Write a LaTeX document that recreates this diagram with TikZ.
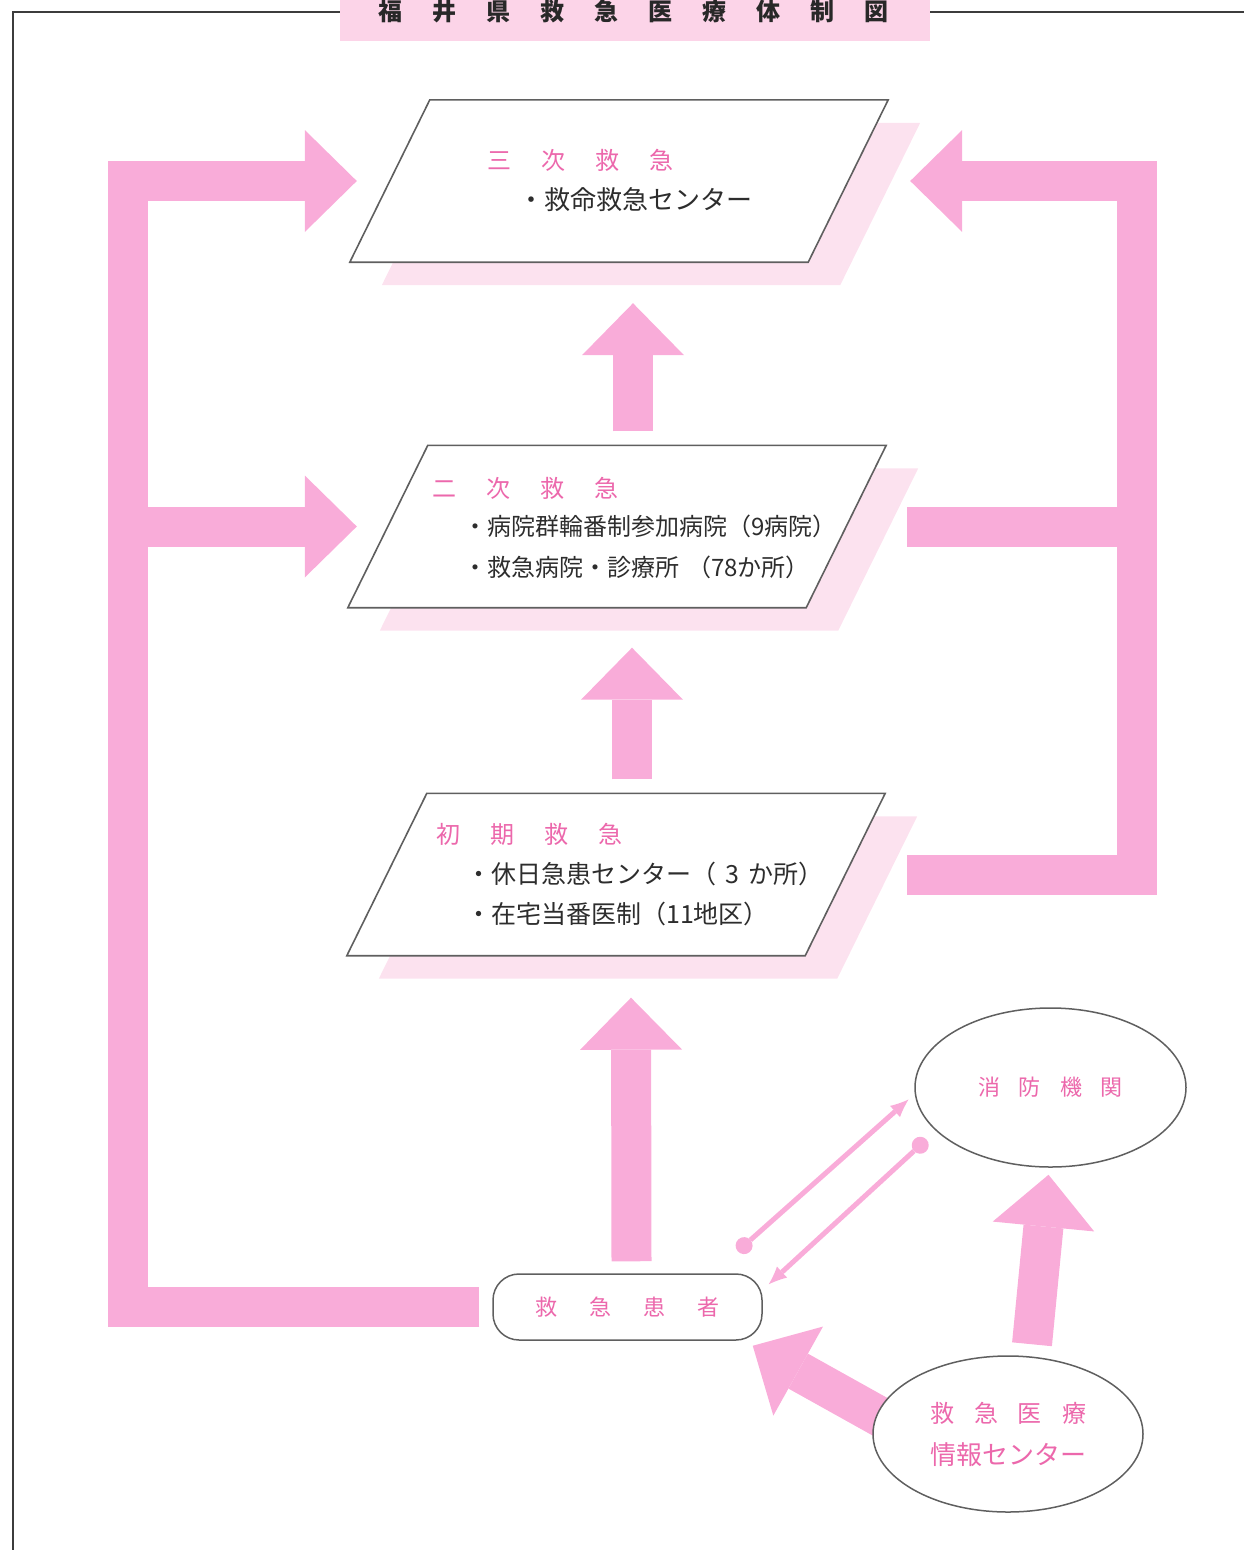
\documentclass[tikz,border=0pt]{standalone}
\usepackage{fontspec}
\newfontfamily\jp{Noto Sans CJK JP}
\usetikzlibrary{arrows.meta,calc,shapes.geometric}
\pgfdeclarelayer{bg}
\pgfsetlayers{bg,main}
\definecolor{pk}{RGB}{249,172,217}
\definecolor{pktext}{RGB}{236,104,172}
\definecolor{pkshadow}{RGB}{252,226,239}
\definecolor{pktitle}{RGB}{252,212,232}
\definecolor{ink}{RGB}{45,45,45}
\definecolor{edge}{RGB}{95,95,95}
\newcommand{\gp}[1]{\hspace{#1pt}}
\newcommand{\drawpara}[1]{%
  \fill[pkshadow] ($(#1.north west)+(72,23)$) -- ($(#1.north east)+(72,23)$) -- ($(#1.south east)+(-8,23)$) -- ($(#1.south west)+(-8,23)$) -- cycle;
  \draw[paraline] ($(#1.north west)+(40,0)$) -- ($(#1.north east)+(40,0)$) -- ($(#1.south east)+(-40,0)$) -- ($(#1.south west)+(-40,0)$) -- cycle;}
\begin{document}
\begin{tikzpicture}[x=1pt,y=-1pt,
  pbox/.style={minimum width=458pt,minimum height=162pt,inner sep=0pt},
  paraline/.style={draw=edge,line width=1.6pt,fill=white},
  fat/.style={draw=pk,line width=40pt,-{Triangle[length=52pt,width=102pt,line width=0pt]}},
  fatline/.style={draw=pk,line width=40pt},
  slim/.style={draw=pk,line width=5pt},
  hd/.style={text=pktext,font=\jp\fontsize{24}{24}\selectfont,anchor=west,inner sep=0pt},
  bd/.style={text=ink,anchor=west,inner sep=0pt},
  ell/.style={ellipse,draw=edge,line width=1.5pt,fill=white,inner sep=0pt,text=pktext},
]
\useasboundingbox (0,0) rectangle (1244,1550);
% frame and title
\draw[line width=2.8pt,draw={rgb,255:red,60;green,60;blue,60}] (340,12) -- (13,12) -- (13,1552);
\draw[line width=2.8pt,draw={rgb,255:red,60;green,60;blue,60}] (930,12) -- (1246,12);
\node[fill=pktitle,minimum width=590pt,minimum height=42pt,inner sep=0pt] (titlebox) at (635,20) {};
\node[text={rgb,255:red,40;green,40;blue,40},font=\jp\bfseries\fontsize{24}{24}\selectfont,anchor=west,inner sep=0pt] (title) at (378,11)
  {福\gp{30}井\gp{30}県\gp{30}救\gp{30}急\gp{30}医\gp{30}療\gp{30}体\gp{30}制\gp{30}図};
% level boxes
\node[pbox] (san) at (619,181) {};
\node[pbox] (niji) at (617,526.5) {};
\node[pbox] (shoki) at (616,874.5) {};
\drawpara{san}
\drawpara{niji}
\drawpara{shoki}
\node[hd] (sanh) at (487,160) {三\gp{30}次\gp{30}救\gp{30}急};
\node[bd,font=\jp\fontsize{26}{26}\selectfont] (sanb) at (518,200) {・救命救急センター};
\node[hd] (nijih) at (432,488) {二\gp{30}次\gp{30}救\gp{30}急};
\node[bd,font=\jp\fontsize{24}{24}\selectfont] (nijib1) at (463,526) {・病院群輪番制参加病院（9病院）};
\node[bd,font=\jp\fontsize{24}{24}\selectfont] (nijib2) at (463,567) {・救急病院・診療所\gp{8}（78か所）};
\node[hd] (shokih) at (436,834) {初\gp{30}期\gp{30}救\gp{30}急};
\node[bd,font=\jp\fontsize{25}{25}\selectfont] (shokib1) at (466,874) {・休日急患センター（\gp{9}3\gp{9}か所）};
\node[bd,font=\jp\fontsize{25}{25}\selectfont] (shokib2) at (466,914) {・在宅当番医制（11地区）};
% lower nodes
\node[draw=edge,line width=1.5pt,rounded corners=26pt,minimum width=269pt,minimum height=66pt,inner sep=0pt,fill=white,text=pktext,font=\jp\fontsize{22}{22}\selectfont] (kanja) at (627.5,1307) {救\gp{32}急\gp{32}患\gp{32}者};
\node[ell,minimum width=271pt,minimum height=159pt,font=\jp\fontsize{22}{22}\selectfont] (shobo) at (1050.5,1087.5) {消\gp{19}防\gp{19}機\gp{19}関};
\node[ell,minimum width=270pt,minimum height=156pt,align=center,font=\jp\fontsize{24}{42}\selectfont] (info) at (1008,1434)
  {救\gp{20}急\gp{20}医\gp{20}療\\{\fontsize{26}{42}\selectfont 情報センター}};
% connectors
\coordinate (lb) at (128,0);
\coordinate (rb) at (1137,0);
\draw[fat] ($(kanja.west)+(-13,0)$) -| (lb |- san.west) -- ($(san.west)+(-33,0)$);
\draw[fat] (lb |- niji.west) -- ($(niji.west)+(-31,0)$);
\draw[fat] ($(shoki.east)+(62,0)$) -| (rb |- san.east) -- ($(san.east)+(62,0)$);
\draw[fatline] ($(niji.east)+(61,0)$) -- (rb |- niji.east);
\draw[fat] ($(niji.north)+(16,-14)$) -- ($(san.south)+(14,41)$);
\draw[fat] ($(shoki.north)+(16,-14)$) -- ($(niji.south)+(15,40)$);
\draw[fat] ($(kanja.north)+(4,-12)$) -- ($(shoki.south)+(15,42)$);
\draw[fat] ($(info.north)+(24,-11)$) -- ($(shobo.south)+(-2,7)$);
\begin{pgfonlayer}{bg}
\draw[fat] ($(info.west)+(19,-11)$) -- ($(kanja.south east)+(-10,5)$);
\end{pgfonlayer}
\draw[slim,{Circle[length=17pt,line width=0pt]}-{Latex[length=18pt,width=15pt,line width=0pt]}] ($(kanja.north east)+(-25,-22)$) -- ($(shobo.center)+(-142,12)$);
\draw[slim,{Circle[length=17pt,line width=0pt]}-{Latex[length=18pt,width=15pt,line width=0pt]}] ($(shobo.center)+(-124,52)$) -- ($(kanja.north east)+(6,11)$);
\end{tikzpicture}
\end{document}
